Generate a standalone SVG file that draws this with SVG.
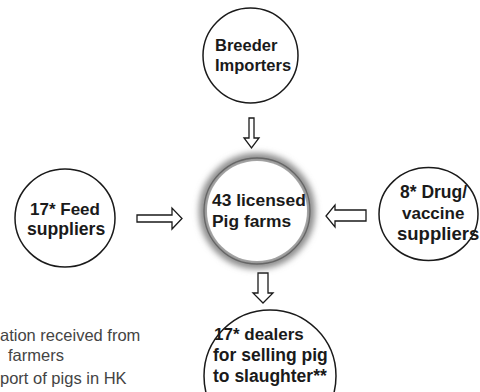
<svg xmlns="http://www.w3.org/2000/svg" width="480" height="392" viewBox="0 0 480 392">
<defs>
<style>
.node{fill:#fff;stroke:#1a1a1a;stroke-width:1.5}
.lbl{font-family:"Liberation Sans",Arial,sans-serif;font-weight:bold;fill:#1a1a1a}
.note{font-family:"Liberation Sans",Arial,sans-serif;fill:#444;font-size:16.5px}
.arr{fill:#fff;stroke:#1a1a1a;stroke-width:1.3;stroke-linejoin:miter}
</style>
<filter id="glow" x="-30%" y="-30%" width="160%" height="160%">
<feGaussianBlur stdDeviation="3"/>
</filter>
</defs>
<rect width="480" height="392" fill="#fff"/>
<g id="connectors">
<path class="arr" d="M249,118 H254 V138 H259 L251.5,148 L244,138 H249 Z"/>
<path class="arr" d="M137,215 H172 V208 L182,218.5 L172,229 V222 H137 Z"/>
<path class="arr" d="M366,210 H335 V205 L326,216 L335,227 V221 H366 Z"/>
<path class="arr" d="M258,273 H268 V293 H273 L263,303 L253,293 H258 Z"/>
</g>
<g id="breeder">
<circle class="node" cx="250.5" cy="55.5" r="47.5"/>
<text class="lbl" font-size="16.5" x="215" y="51">Breeder</text>
<text class="lbl" font-size="16.5" x="215" y="71">Importers</text>
</g>
<g id="farms">
<circle cx="257" cy="211" r="53" fill="none" stroke="#8a8a8a" stroke-width="10" filter="url(#glow)"/>
<circle cx="257" cy="211" r="50" fill="#fff" stroke="none"/>
<circle cx="257" cy="211" r="53" fill="none" stroke="#666" stroke-width="1.3"/>
<text class="lbl" font-size="17.4" x="212" y="206">43 licensed</text>
<text class="lbl" font-size="17.4" x="212" y="226.5">Pig farms</text>
</g>
<g id="feed">
<ellipse class="node" cx="65" cy="218" rx="50" ry="49"/>
<text class="lbl" font-size="17" x="30" y="215">17* Feed</text>
<text class="lbl" font-size="17.6" x="27" y="234.5">suppliers</text>
</g>
<g id="drug">
<ellipse class="node" cx="428.5" cy="214" rx="49.5" ry="46.5"/>
<text class="lbl" font-size="17.5" x="400" y="198">8* Drug/</text>
<text class="lbl" font-size="17" x="402" y="219">vaccine</text>
<text class="lbl" font-size="18.5" x="397" y="240">suppliers</text>
</g>
<g id="dealers">
<ellipse class="node" cx="270" cy="376" rx="66" ry="66"/>
<text class="lbl" font-size="17" x="214" y="340">17* dealers</text>
<text class="lbl" font-size="17.5" x="213" y="361">for selling pig</text>
<text class="lbl" font-size="17.5" x="213" y="382">to slaughter**</text>
</g>
<g id="footnote">
<text class="note" x="0" y="341">ation received from</text>
<text class="note" x="8" y="361">farmers</text>
<text class="note" x="0" y="384">port of pigs in HK</text>
</g>
</svg>
